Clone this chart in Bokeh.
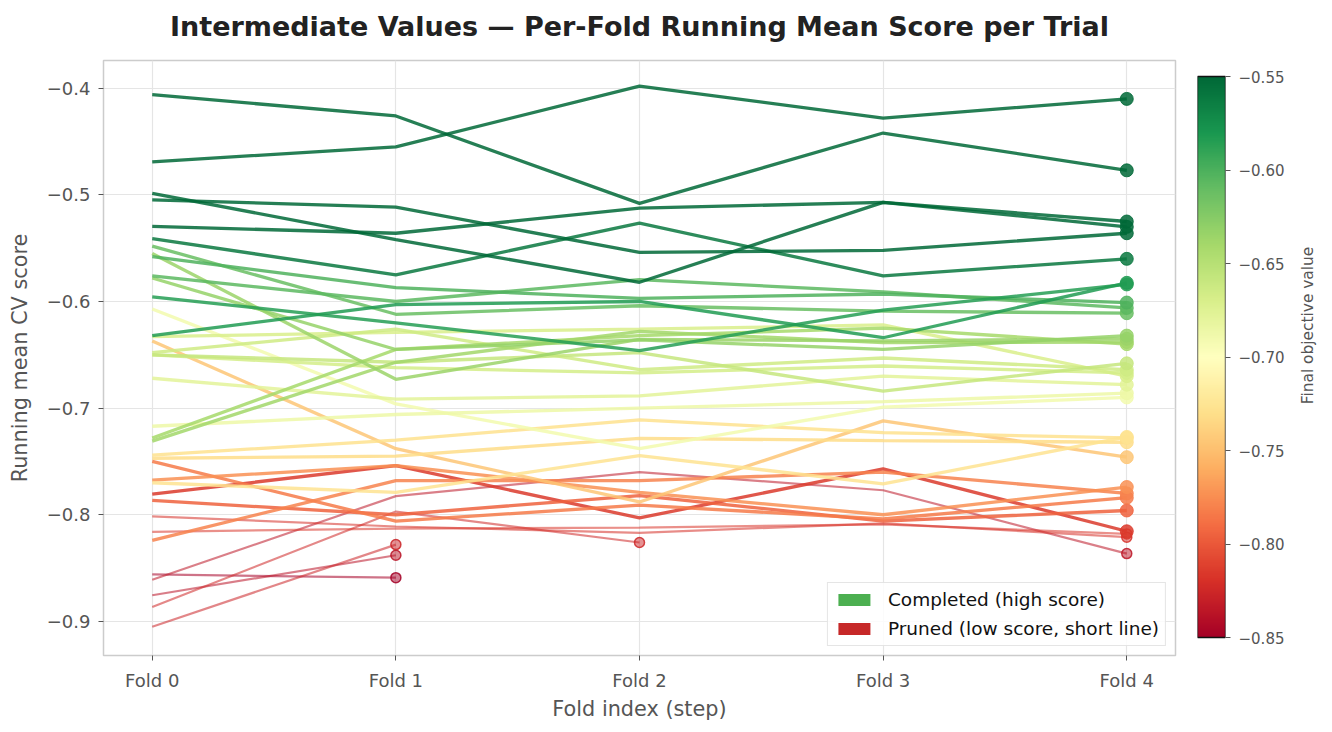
import math
import numpy as np
from bokeh.plotting import figure
from bokeh.layouts import row, column
from bokeh.models import (FixedTicker, CustomJSTickFormatter, Range1d, Legend, LegendItem,
                          LinearColorMapper)
from bokeh.core.properties import value
from bokeh.embed import file_html
from bokeh.resources import INLINE

# ---------------- data ----------------
fold_labels = ["Fold 0", "Fold 1", "Fold 2", "Fold 3", "Fold 4"]
steps = [0, 1, 2, 3, 4]

# completed trials: running mean score at each fold
completed_scores = [
    [-0.469, -0.455, -0.398, -0.428, -0.410],
    [-0.406, -0.426, -0.508, -0.442, -0.477],
    [-0.4985, -0.542, -0.582, -0.507, -0.525],
    [-0.5047, -0.5115, -0.554, -0.552, -0.536],
    [-0.5296, -0.536, -0.5125, -0.507, -0.530],
    [-0.541, -0.575, -0.5265, -0.576, -0.560],
    [-0.632, -0.603, -0.600, -0.634, -0.5825],
    [-0.5956, -0.620, -0.646, -0.608, -0.584],
    [-0.558, -0.587, -0.597, -0.593, -0.601],
    [-0.576, -0.600, -0.5795, -0.591, -0.606],
    [-0.548, -0.612, -0.604, -0.609, -0.611],
    [-0.578, -0.645, -0.636, -0.645, -0.632],
    [-0.555, -0.673, -0.6355, -0.637, -0.635],
    [-0.728, -0.645, -0.632, -0.625, -0.640],
    [-0.731, -0.657, -0.628, -0.6386, -0.638],
    [-0.650, -0.657, -0.648, -0.684, -0.658],
    [-0.633, -0.629, -0.626, -0.622, -0.670],
    [-0.648, -0.626, -0.664, -0.653, -0.664],
    [-0.607, -0.696, -0.738, -0.699, -0.690],
    [-0.672, -0.6916, -0.6885, -0.670, -0.678],
    [-0.717, -0.706, -0.700, -0.694, -0.686],
    [-0.650, -0.662, -0.667, -0.6605, -0.667],
    [-0.744, -0.730, -0.711, -0.723, -0.728],
    [-0.747, -0.745, -0.7283, -0.7305, -0.732],
    [-0.637, -0.738, -0.788, -0.712, -0.746],
    [-0.770, -0.779, -0.7445, -0.771, -0.727],
    [-0.750, -0.806, -0.791, -0.804, -0.784],
    [-0.7675, -0.754, -0.779, -0.800, -0.774],
    [-0.7807, -0.754, -0.803, -0.757, -0.8155],
    [-0.7866, -0.800, -0.782, -0.806, -0.796],
    [-0.824, -0.768, -0.768, -0.760, -0.780],
]

# pruned trials: shorter (or weaker) curves
pruned_scores = [
    [-0.856, -0.859],
    [-0.8755, -0.838],
    [-0.905, -0.828],
    [-0.8866, -0.797, -0.826],
    [-0.861, -0.7825, -0.760, -0.777, -0.8364],
    [-0.8015, -0.811, -0.817, -0.808, -0.821],
    [-0.816, -0.813, -0.812, -0.809, -0.818],
]

y_ticks = [-0.9, -0.8, -0.7, -0.6, -0.5, -0.4]
cbar_ticks = [-0.85, -0.80, -0.75, -0.70, -0.65, -0.60, -0.55]
cbar_low, cbar_high = -0.85, -0.55
title_text = "Intermediate Values \u2014 Per-Fold Running Mean Score per Trial"
cbar_label = "Final objective value"

RDYLGN = ['#a50026', '#d73027', '#f46d43', '#fdae61', '#fee08b', '#ffffbf',
          '#d9ef8b', '#a6d96a', '#66bd63', '#1a9850', '#006837']


def hex2rgb(h):
    return [int(h[i:i + 2], 16) for i in (1, 3, 5)]


def cmap(v):
    t = min(max((v - cbar_low) / (cbar_high - cbar_low), 0.0), 1.0)
    pos = t * (len(RDYLGN) - 1)
    i = min(int(pos), len(RDYLGN) - 2)
    f = pos - i
    a, b = hex2rgb(RDYLGN[i]), hex2rgb(RDYLGN[i + 1])
    c = [round(a[k] + (b[k] - a[k]) * f) for k in range(3)]
    return "#%02x%02x%02x" % tuple(c)


FONT = "DejaVu Sans"
MINUS_FMT1 = CustomJSTickFormatter(code="return (tick < 0 ? '\u2212' : '') + Math.abs(tick).toFixed(1);")
MINUS_FMT2 = CustomJSTickFormatter(code="return (tick < 0 ? '\u2212' : '') + Math.abs(tick).toFixed(2);")

W_MAIN = 1188
TITLE_H = 44
H = 724 - TITLE_H
LEFT, RIGHT, TOP, BOTTOM = 103, 13, 60 - TITLE_H, 69
FRAME_H = H - TOP - BOTTOM

# ---------------- title strip ----------------
tf = figure(width=W_MAIN, height=TITLE_H, output_backend="svg", toolbar_location=None,
            x_range=Range1d(0, 1), y_range=Range1d(0, TITLE_H),
            x_axis_location=None, y_axis_location=None,
            min_border_left=LEFT, min_border_right=RIGHT, min_border_top=0, min_border_bottom=0)
tf.xgrid.visible = False
tf.ygrid.visible = False
tf.outline_line_color = None
tf.text(x=[0.5], y=[TITLE_H - 26], text=[title_text], text_align="center", text_baseline="middle",
        text_font=value(FONT), text_font_size="27px", text_font_style="bold", text_color="#222222")

# ---------------- main figure ----------------
p = figure(width=W_MAIN, height=H, output_backend="svg", toolbar_location=None,
           x_range=Range1d(-0.2, 4.2), y_range=Range1d(-0.932, -0.374),
           min_border_left=LEFT, min_border_right=RIGHT, min_border_top=TOP, min_border_bottom=BOTTOM)

p.outline_line_color = "#cccccc"
p.outline_line_width = 1.5
p.background_fill_color = "white"
p.border_fill_color = "white"

for g in (p.xgrid[0], p.ygrid[0]):
    g.grid_line_color = "#e5e5e5"
    g.grid_line_width = 1.2

p.xaxis.ticker = FixedTicker(ticks=steps)
p.xaxis.major_label_overrides = {s: lab for s, lab in zip(steps, fold_labels)}
p.yaxis.ticker = FixedTicker(ticks=y_ticks)
p.yaxis.formatter = MINUS_FMT1
p.xaxis.axis_label = "Fold index (step)"
p.yaxis.axis_label = "Running mean CV score"

for ax in (p.xaxis[0], p.yaxis[0]):
    ax.axis_line_color = None
    ax.major_tick_line_color = "#555555"
    ax.major_tick_in = 0
    ax.major_tick_out = 5
    ax.minor_tick_line_color = None
    ax.major_label_text_font = FONT
    ax.major_label_text_font_size = "18px"
    ax.major_label_text_color = "#555555"
    ax.axis_label_text_font = FONT
    ax.axis_label_text_font_size = "20.8px"
    ax.axis_label_text_font_style = "normal"
    ax.axis_label_text_color = "#555555"
p.yaxis.major_label_standoff = 8
p.yaxis.axis_label_standoff = 12
p.xaxis.major_label_standoff = 9
p.xaxis.axis_label_standoff = 3

# pruned lines (thin, transparent)
for vals in pruned_scores:
    c = cmap(vals[-1])
    xs = steps[:len(vals)]
    p.line(xs, vals, line_color=c, line_width=2.2, line_alpha=0.55)
    p.scatter([xs[-1]], [vals[-1]], size=10, fill_color=c, fill_alpha=0.5,
              line_color=c, line_alpha=0.85, line_width=1.5)

# completed lines (thick)
for vals in sorted(completed_scores, key=lambda v: v[-1]):
    c = cmap(vals[-1])
    p.line(steps, vals, line_color=c, line_width=3.3, line_alpha=0.85)
    p.scatter([steps[-1]], [vals[-1]], size=13, fill_color=c, fill_alpha=0.85,
              line_color=c, line_alpha=0.85)

# legend proxies (drawn outside the visible range; only their legend patches show)
r_comp = p.quad(left=[10], right=[11], top=[10], bottom=[9], fill_color="#4caf50", line_color=None)
r_prun = p.quad(left=[10], right=[11], top=[10], bottom=[9], fill_color="#c62828", line_color=None)
legend = Legend(items=[LegendItem(label="Completed (high score)", renderers=[r_comp]),
                       LegendItem(label="Pruned (low score, short line)", renderers=[r_prun])],
                location="bottom_right")
legend.label_text_font = FONT
legend.label_text_font_size = "18.5px"
legend.label_text_color = "#111111"
legend.glyph_width = 40
legend.glyph_height = 15
legend.label_standoff = 14
legend.padding = 6
legend.spacing = 8
legend.margin = 9
legend.border_line_color = "#cccccc"
legend.border_line_width = 1.5
legend.background_fill_alpha = 0.85
p.add_layout(legend)

# ---------------- colorbar figure ----------------
bar_px = 561.0
per_px = (cbar_high - cbar_low) / bar_px
pad_bottom = (FRAME_H - bar_px - 16) * per_px
pad_top = 16 * per_px
y_lo, y_hi = cbar_low - pad_bottom, cbar_high + pad_top
palette = [cmap(v) for v in np.linspace(cbar_low, cbar_high, 256)]
mapper = LinearColorMapper(palette=palette, low=cbar_low, high=cbar_high)
CB_W = 107
cb = figure(width=CB_W, height=H, output_backend="svg", toolbar_location=None,
            x_range=Range1d(0, 1), y_range=Range1d(y_lo, y_hi),
            y_axis_location="right",
            min_border_left=9, min_border_right=CB_W - 37, min_border_top=TOP, min_border_bottom=BOTTOM)
grad = np.linspace(cbar_low, cbar_high, 256).reshape(256, 1)
cb.image(image=[grad], x=0, y=cbar_low, dw=1, dh=cbar_high - cbar_low, color_mapper=mapper)
cb.quad(left=[0], right=[1], bottom=[cbar_low], top=[cbar_high], fill_color=None,
        line_color="#111111", line_width=1.3)
cb.xaxis.visible = False
cb.xgrid.visible = False
cb.ygrid.visible = False
cb.outline_line_color = None
ya = cb.yaxis[0]
ya.ticker = FixedTicker(ticks=cbar_ticks)
ya.formatter = MINUS_FMT2
ya.axis_line_color = None
ya.major_tick_in = 0
ya.major_tick_out = 5
ya.major_tick_line_color = "#555555"
ya.minor_tick_line_color = None
ya.major_label_text_font = FONT
ya.major_label_text_font_size = "15px"
ya.major_label_text_color = "#555555"
ya.major_label_standoff = 8

# ---------------- colorbar label strip ----------------
lab = figure(width=24, height=H, output_backend="svg", toolbar_location=None,
             x_range=Range1d(0, 1), y_range=Range1d(0, FRAME_H),
             x_axis_location=None, y_axis_location=None,
             min_border_left=0, min_border_right=0, min_border_top=TOP, min_border_bottom=BOTTOM)
lab.xgrid.visible = False
lab.ygrid.visible = False
lab.outline_line_color = None
lab.text(x=[0.5], y=[FRAME_H - (325 - 60)], text=[cbar_label], angle=math.pi / 2,
         text_align="center", text_baseline="middle", text_font=value(FONT),
         text_font_size="15.4px", text_color="#555555")

layout = column(tf, row(p, cb, lab))
with open("out.html", "w", encoding="utf-8") as f:
    f.write(file_html(layout, INLINE))
